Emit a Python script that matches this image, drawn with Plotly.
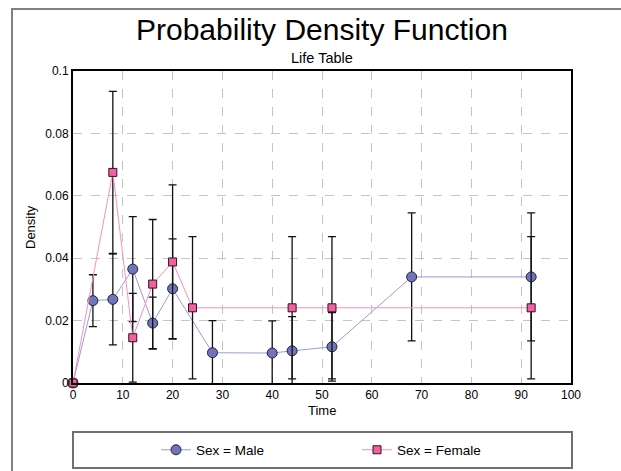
import plotly.graph_objects as go

# ---- data ----
time_male = [0, 4, 8, 12, 16, 20, 28, 40, 44, 52, 68, 92]
dens_male = [0, 0.0264, 0.0268, 0.0365, 0.0192, 0.0302, 0.0097, 0.0096, 0.0103, 0.0116, 0.0340, 0.0340]
err_male = [0, 0.0083, 0.0146, 0.0168, 0.0083, 0.0160, 0.0103, 0.0103, 0.0110, 0.0110, 0.0205, 0.0205]

time_female = [0, 8, 12, 16, 20, 24, 44, 52, 92]
dens_female = [0, 0.0675, 0.0145, 0.0317, 0.0388, 0.0241, 0.0241, 0.0241, 0.0241]
err_female = [0, 0.0260, 0.0142, 0.0207, 0.0247, 0.0228, 0.0228, 0.0228, 0.0228]

x_ticks = [0, 10, 20, 30, 40, 50, 60, 70, 80, 90, 100]
y_ticks = [0, 0.02, 0.04, 0.06, 0.08, 0.1]
y_tick_labels = ["0", "0.02", "0.04", "0.06", "0.08", "0.1"]

FONT = "Liberation Sans, Arial, sans-serif"

fig = go.Figure()
fig.add_trace(go.Scatter(
    x=time_male, y=dens_male, name="Sex = Male", mode="lines+markers",
    line=dict(color="#9A9CD4", width=1),
    marker=dict(symbol="circle", size=10, color="#7174B6", line=dict(color="#222244", width=1)),
    error_y=dict(type="data", array=err_male, visible=True, color="#111111", thickness=1.3, width=4),
    cliponaxis=False,
))
fig.add_trace(go.Scatter(
    x=time_female, y=dens_female, name="Sex = Female", mode="lines+markers",
    line=dict(color="#FF8CC0", width=1),
    marker=dict(symbol="square", size=8, color="#F2619F", line=dict(color="#331122", width=1)),
    error_y=dict(type="data", array=err_female, visible=True, color="#111111", thickness=1.3, width=4),
    cliponaxis=False,
))

W, H = 621, 471
L, R, T, B = 73, 50, 71, 88
pw, ph = W - L - R, H - T - B


def px(xp):
    return (xp - L) / pw


def py(yp):
    return (H - B - yp) / ph


fig.update_layout(
    width=W, height=H,
    margin=dict(l=L, r=R, t=T, b=B, autoexpand=False),
    paper_bgcolor="white", plot_bgcolor="white",
    font=dict(family=FONT, size=12, color="black"),
    showlegend=True,
    legend=dict(orientation="h", x=px(156), xanchor="left", y=py(450), yanchor="middle",
                font=dict(size=13.5), bgcolor="rgba(0,0,0,0)", entrywidth=156, itemwidth=30),
    xaxis=dict(range=[0, 100], tickvals=x_ticks, showgrid=True, gridcolor="#C4C4C4", griddash="dash",
               gridwidth=1, showline=True, linecolor="black", linewidth=2, mirror=True,
               zeroline=False, ticks="", tickfont=dict(size=12)),
    yaxis=dict(range=[0, 0.1], tickvals=y_ticks, ticktext=y_tick_labels, showgrid=True,
               gridcolor="#C4C4C4", griddash="dash", gridwidth=1, showline=True, linecolor="black",
               linewidth=2, mirror=True, zeroline=False, ticks="", tickfont=dict(size=12)),
    shapes=[
        dict(type="rect", xref="paper", yref="paper", x0=px(12), x1=px(640), y0=py(490), y1=py(9),
             line=dict(color="#808080", width=2), fillcolor="rgba(0,0,0,0)", layer="below"),
        dict(type="rect", xref="paper", yref="paper", x0=px(73), x1=px(572), y0=py(468), y1=py(432),
             line=dict(color="#707070", width=2), fillcolor="rgba(0,0,0,0)"),
    ],
    annotations=[
        dict(text="Probability Density Function", xref="paper", yref="paper", x=0.5, y=py(29),
             showarrow=False, font=dict(size=30, family=FONT), xanchor="center", yanchor="middle"),
        dict(text="Life Table", xref="paper", yref="paper", x=0.5, y=py(58),
             showarrow=False, font=dict(size=14.5, family=FONT), xanchor="center", yanchor="middle"),
        dict(text="Density", xref="paper", yref="paper", x=px(30), y=0.5, textangle=-90,
             showarrow=False, font=dict(size=13, family=FONT), xanchor="center", yanchor="middle"),
        dict(text="Time", xref="paper", yref="paper", x=0.5, y=py(411),
             showarrow=False, font=dict(size=13, family=FONT), xanchor="center", yanchor="middle"),
    ],
)

fig.write_html("out.html", config={"displayModeBar": False},
               post_script="document.body.style.margin='0';document.body.style.padding='0';")
